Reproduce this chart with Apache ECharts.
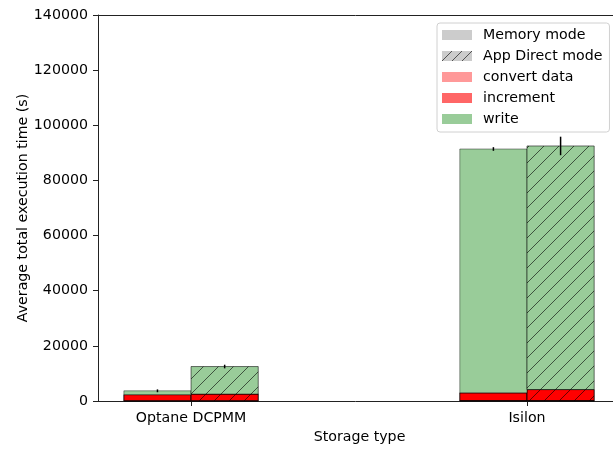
<!DOCTYPE html>
<html>
<head>
<meta charset="utf-8">
<script src="https://cdn.jsdelivr.net/npm/echarts@6/dist/echarts.min.js"></script>
<style>html,body{margin:0;padding:0;background:#fff}#c{width:613px;height:449px}</style>
</head>
<body>
<div id="c"></div>
<script>
// ---- data ----
const categories = ['Optane DCPMM', 'Isilon'];
const modes = ['Memory mode', 'App Direct mode'];
const layers = ['convert data', 'increment', 'write'];
const convertMem = [100, 150];
const convertApp = [100, 150];
const incrementMem = [2200, 2800];
const incrementApp = [2400, 4000];
const writeMem = [1400, 88450];
const writeApp = [10000, 88350];
const errMem = [150, 300];
const errApp = [300, 3000];
const yMax = 140000;
const yStep = 20000;

// ---- helpers ----
const FONT = 'DejaVu Sans';
const FS = 14.2;
function hatch(base, spacing) {
  const c = document.createElement('canvas');
  c.width = spacing; c.height = spacing;
  const g = c.getContext('2d');
  g.fillStyle = base; g.fillRect(0, 0, spacing, spacing);
  g.strokeStyle = 'rgba(0,0,0,0.6)'; g.lineWidth = 1;
  g.beginPath();
  g.moveTo(-1, spacing + 1); g.lineTo(spacing + 1, -1);
  g.moveTo(-1, 1); g.lineTo(1, -1);
  g.moveTo(spacing - 1, spacing + 1); g.lineTo(spacing + 1, spacing - 1);
  g.stroke();
  return { image: c, repeat: 'repeat' };
}
const layerFill = { 'convert data': '#ff9999', 'increment': '#ff0000', 'write': '#99cc99' };
const layerLegend = { 'convert data': '#ff9999', 'increment': '#ff6666', 'write': '#99cc99' };
const layerStroke = {
  'convert data': ['rgba(0,0,0,0.8)', 'rgba(0,0,0,0.8)'],
  'increment': ['rgba(0,0,0,0.85)', 'rgba(0,0,0,0.85)'],
  'write': ['rgba(0,0,0,0.4)', 'rgba(0,0,0,0.55)']
};
const OFF = 0.1, HALF = 0.1;

const memVals = { 'convert data': convertMem, 'increment': incrementMem, 'write': writeMem };
const appVals = { 'convert data': convertApp, 'increment': incrementApp, 'write': writeApp };

const series = [];
// dummy series for mode legend entries
modes.forEach(m => series.push({ name: m, type: 'custom', data: [], renderItem: () => null }));

layers.forEach((ly, li) => {
  const data = [];
  categories.forEach((cat, ci) => {
    [memVals, appVals].forEach((src, mi) => {
      let base = 0;
      for (let k = 0; k < li; k++) base += src[layers[k]][ci];
      data.push([ci + (mi === 0 ? -OFF : OFF), base, base + src[ly][ci], mi]);
    });
  });
  const pat = hatch(layerFill[ly], 15);
  series.push({
    name: ly, type: 'custom', data: data, encode: { x: 0, y: 2 }, z: 2 + li,
    renderItem: function (params, api) {
      const x = api.value(0), b = api.value(1), t = api.value(2), m = api.value(3);
      const p0 = api.coord([x - HALF, t]);
      const p1 = api.coord([x + HALF, b]);
      return {
        type: 'rect',
        shape: { x: p0[0], y: p0[1], width: p1[0] - p0[0], height: p1[1] - p0[1] },
        style: { fill: m ? pat : layerFill[ly], stroke: layerStroke[ly][m], lineWidth: 1 }
      };
    }
  });
});

// error bars on totals
const errData = [];
categories.forEach((cat, ci) => {
  [[memVals, errMem], [appVals, errApp]].forEach(([src, err], mi) => {
    const tot = layers.reduce((s, ly) => s + src[ly][ci], 0);
    errData.push([ci + (mi === 0 ? -OFF : OFF), tot - err[ci], tot + err[ci]]);
  });
});
series.push({
  name: 'err', type: 'custom', data: errData, encode: { x: 0, y: 2 }, z: 10,
  renderItem: function (params, api) {
    const a = api.coord([api.value(0), api.value(1)]);
    const b = api.coord([api.value(0), api.value(2)]);
    return { type: 'line', shape: { x1: a[0], y1: a[1] + 1, x2: b[0], y2: b[1] - 1 }, style: { stroke: '#000', lineWidth: 1.5 } };
  }
});

const X_MIN = -0.277, X_MAX = 1.256;
const chart = echarts.init(document.getElementById('c'), null, { renderer: 'canvas' });
chart.setOption({
  animation: false,
  textStyle: { fontFamily: FONT },
  grid: { left: 98, top: 15, right: 0, bottom: 48, containLabel: false },
  legend: {
    orient: 'vertical', left: 437, top: 23,
    padding: [5, 7, 6, 5], itemGap: 7, itemWidth: 30, itemHeight: 10,
    backgroundColor: 'rgba(255,255,255,0.8)', borderColor: '#d0d0d0', borderWidth: 1, borderRadius: 3,
    textStyle: { fontFamily: FONT, fontSize: FS, color: '#000', padding: [0, 0, 0, 6] },
    data: [
      { name: 'Memory mode', icon: 'rect', itemStyle: { color: '#cccccc', borderWidth: 0 } },
      { name: 'App Direct mode', icon: 'rect', itemStyle: { color: hatch('#cccccc', 10), borderWidth: 0 } },
      { name: 'convert data', icon: 'rect', itemStyle: { color: layerLegend['convert data'], borderWidth: 0 } },
      { name: 'increment', icon: 'rect', itemStyle: { color: layerLegend['increment'], borderWidth: 0 } },
      { name: 'write', icon: 'rect', itemStyle: { color: layerLegend['write'], borderWidth: 0 } }
    ],
    selectedMode: false
  },
  xAxis: [{
    type: 'value', min: X_MIN, max: X_MAX,
    name: 'Storage type', nameLocation: 'middle', nameGap: 29, nameMoveOverlap: false,
    nameTextStyle: { fontFamily: FONT, fontSize: FS, color: '#000', padding: [0, 0, 0, 8] },
    axisLine: { show: true, onZero: false, lineStyle: { color: '#222', width: 1 } },
    axisTick: { show: true, length: 5, lineStyle: { color: '#222' }, customValues: [0, 1] },
    axisLabel: { show: true, margin: 10, fontFamily: FONT, fontSize: FS, color: '#000', customValues: [0, 1],
      formatter: v => categories[Math.round(v)] },
    splitLine: { show: false }
  }, {
    type: 'value', position: 'top', min: X_MIN, max: X_MAX,
    axisLine: { show: true, onZero: false, lineStyle: { color: '#222', width: 1 } },
    axisTick: { show: false }, axisLabel: { show: false }, splitLine: { show: false }
  }],
  yAxis: {
    type: 'value', min: 0, max: yMax, interval: yStep,
    name: 'Average total execution time (s)', nameLocation: 'middle', nameGap: 68, nameMoveOverlap: false,
    nameTextStyle: { fontFamily: FONT, fontSize: FS, color: '#000' },
    axisLine: { show: true, onZero: false, lineStyle: { color: '#222', width: 1 } },
    axisTick: { show: true, length: 5, lineStyle: { color: '#222' } },
    axisLabel: { margin: 10, fontFamily: FONT, fontSize: FS, color: '#000', formatter: v => String(v) },
    splitLine: { show: false }
  },
  series: series
});
</script>
</body>
</html>
